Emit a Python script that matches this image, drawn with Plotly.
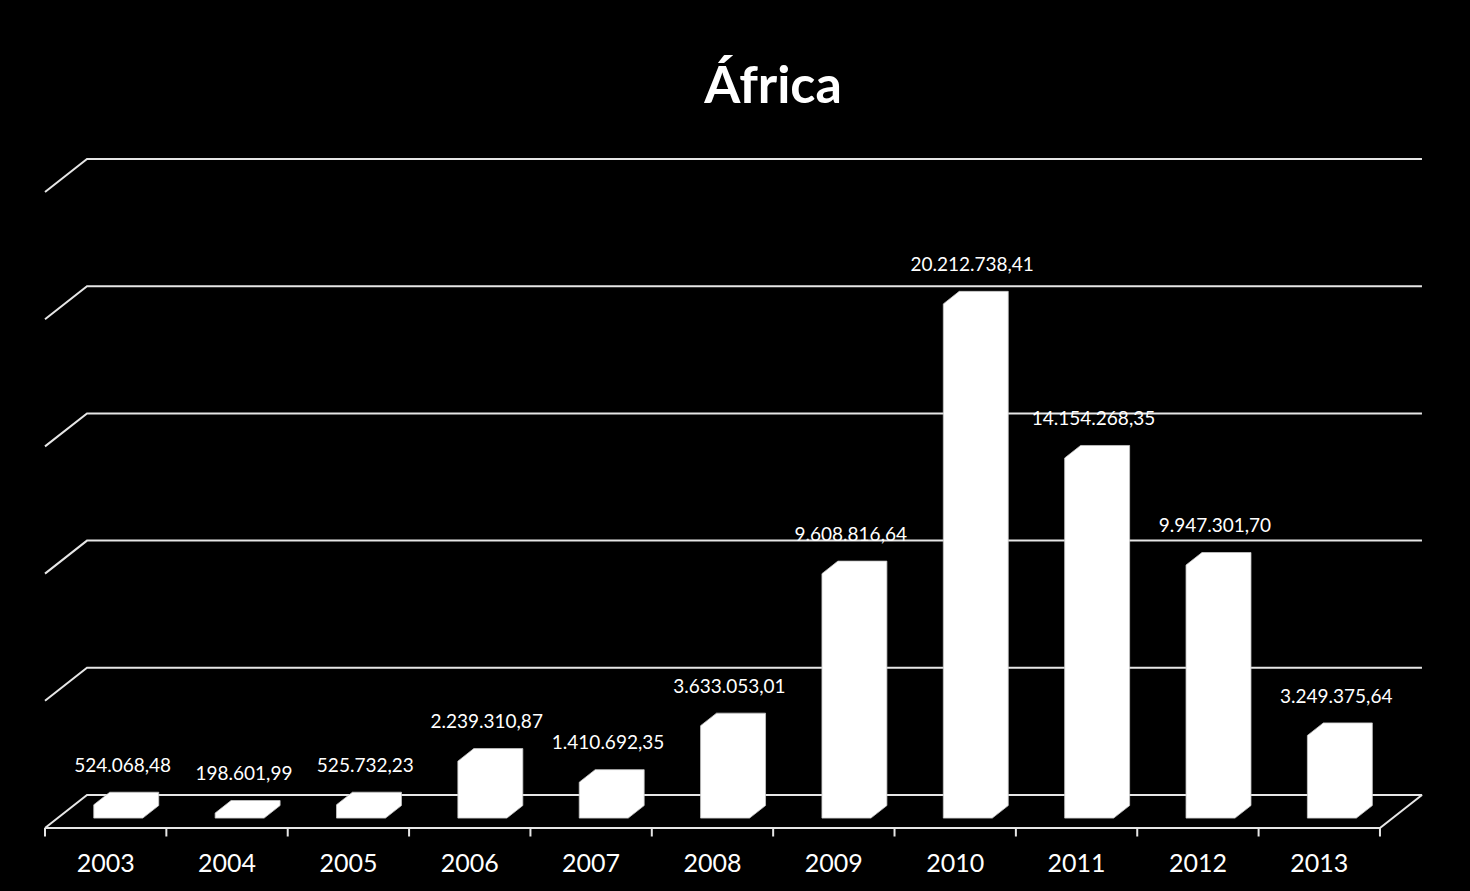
import plotly.graph_objects as go

# ---------------- data ----------------
years = ["2003", "2004", "2005", "2006", "2007", "2008", "2009", "2010", "2011", "2012", "2013"]
values = [524068.48, 198601.99, 525732.23, 2239310.87, 1410692.35, 3633053.01,
          9608816.64, 20212738.41, 14154268.35, 9947301.70, 3249375.64]
grid_values = [5e6, 10e6, 15e6, 20e6, 25e6]
title_text = "África"

# ---------------- geometry / style ----------------
W, H = 1470, 891
PX_LEFT = 45.0          # front-left corner of floor (px)
CAT_W = 121.36          # category width (px)
BACK0_PY = 795.0        # back floor line (value 0) (px)
PPU = 25.44 / 1e6       # px per value unit
FLOOR_DX_PX, FLOOR_DY_PX = 42.0, 33.0
BOX_L, BOX_R, BOX_T, BOX_B = 30, 1440, 140, 846

n = len(years)
DXu = FLOOR_DX_PX / CAT_W
DYv = FLOOR_DY_PX / PPU
xr = [(BOX_L - PX_LEFT) / CAT_W - 0.5, (BOX_R - PX_LEFT) / CAT_W - 0.5]
yr = [(BACK0_PY - BOX_B) / PPU, (BACK0_PY - BOX_T) / PPU]

HW = 49.0 / 2 / CAT_W   # bar half width
F1, F2 = 0.30, 0.68     # bar front / back depth fraction
LINE_C = "#e6e6e6"
FONT = "Lato"


def pt(u, v, f):
    """point at category coord u, height v, depth fraction f (0 = front)"""
    return u + f * DXu, v - DYv + f * DYv


fig = go.Figure()

# floor outline
x0, x1 = -0.5, n - 0.5
fx = [x0, x1, x1 + DXu, x0 + DXu, x0]
fy = [-DYv, -DYv, 0, 0, -DYv]
fig.add_trace(go.Scatter(x=fx, y=fy, mode="lines", line=dict(color=LINE_C, width=2),
                         hoverinfo="skip", showlegend=False, cliponaxis=False))

# gridlines (back wall + left diagonal)
gx, gy = [], []
for g in grid_values:
    gx += [x0, x0 + DXu, x1 + DXu, None]
    gy += [g - DYv, g, g, None]
fig.add_trace(go.Scatter(x=gx, y=gy, mode="lines", line=dict(color=LINE_C, width=2),
                         hoverinfo="skip", showlegend=False, cliponaxis=False))

# tick marks on front edge
tick_len_v = 8.5 / PPU
tx, ty = [], []
for k in range(n + 1):
    b = -0.5 + k
    tx += [b, b, None]
    ty += [-DYv, -DYv - tick_len_v, None]
fig.add_trace(go.Scatter(x=tx, y=ty, mode="lines", line=dict(color=LINE_C, width=2),
                         hoverinfo="skip", showlegend=False, cliponaxis=False))

# 3D bars as hexagons
lab_x, lab_y, lab_t = [], [], []
for i, v in enumerate(values):
    a = pt(i - HW, 0, F1)
    b = pt(i - HW, v, F1)
    c = pt(i - HW, v, F2)
    d = pt(i + HW, v, F2)
    e = pt(i + HW, 0, F2)
    f = pt(i + HW, 0, F1)
    xs = [a[0], b[0], c[0], d[0], e[0], f[0], a[0]]
    ys = [a[1], b[1], c[1], d[1], e[1], f[1], a[1]]
    fig.add_trace(go.Scatter(x=xs, y=ys, mode="lines", fill="toself",
                             fillcolor="white", line=dict(color="#c8c8c8", width=0.8),
                             hoverinfo="skip", showlegend=False))
    lab_x.append((b[0] + d[0]) / 2 - 0.03)
    lab_y.append(c[1] + 25 / PPU)
    s = f"{v:,.2f}".replace(",", "X").replace(".", ",").replace("X", ".")
    lab_t.append(s)

fig.add_trace(go.Scatter(x=lab_x, y=lab_y, mode="text", text=lab_t,
                         textposition="middle center",
                         textfont=dict(family=FONT, size=19, color="white"),
                         hoverinfo="skip", showlegend=False, cliponaxis=False))

fig.update_layout(
    width=W, height=H,
    margin=dict(l=BOX_L, r=W - BOX_R, t=BOX_T, b=H - BOX_B, pad=0),
    paper_bgcolor="black", plot_bgcolor="black",
    title=dict(text=f"<b>{title_text}</b>", x=773 / W, xref="container", xanchor="center",
               y=1 - 85 / H, yref="container", yanchor="middle",
               font=dict(family=FONT, size=52, color="white")),
    xaxis=dict(range=xr, showgrid=False, zeroline=False, showline=False, ticks="",
               tickvals=list(range(n)), ticktext=years,
               tickfont=dict(family=FONT, size=25, color="white"), fixedrange=True),
    yaxis=dict(range=yr, visible=False, showgrid=False, zeroline=False, fixedrange=True),
    hovermode=False,
)

fig.write_html("out.html")
